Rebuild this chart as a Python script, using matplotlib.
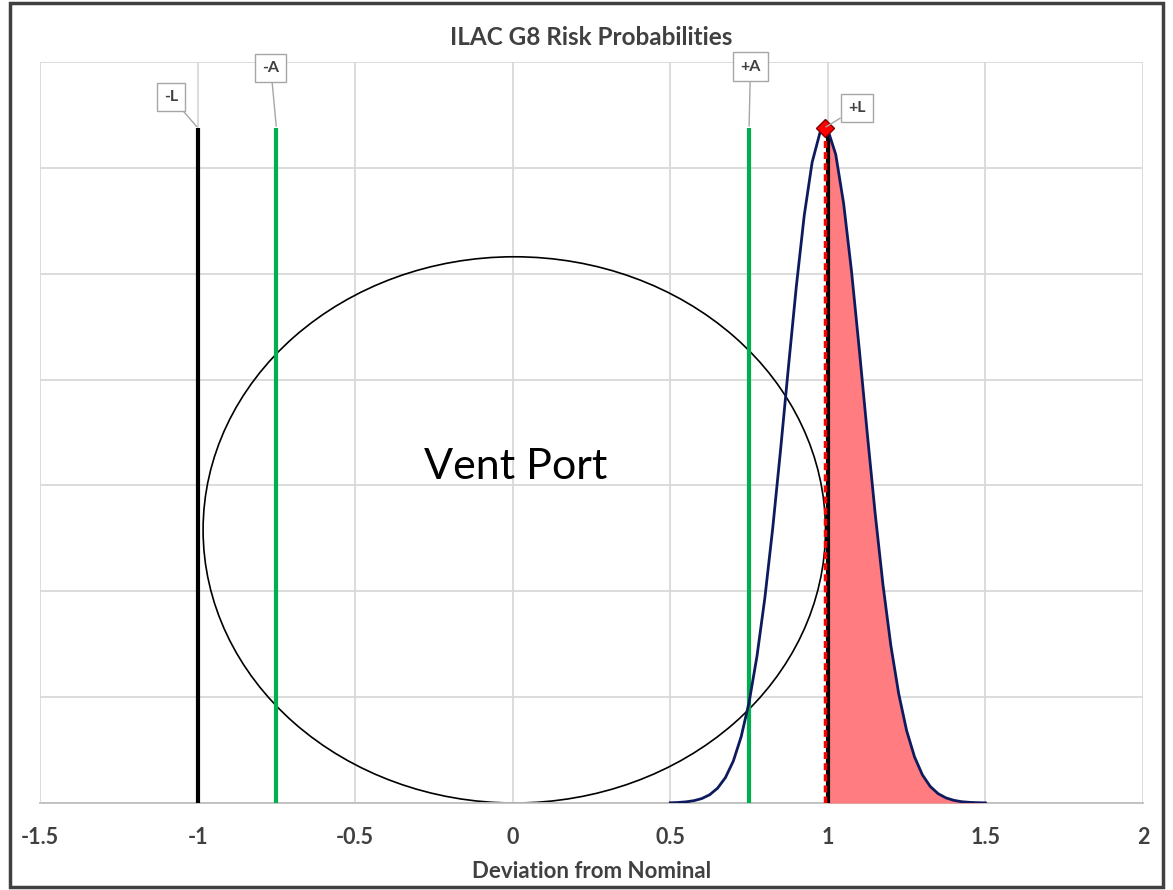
import matplotlib
matplotlib.use("Agg")
import numpy as np
import matplotlib.pyplot as plt
from matplotlib.patches import Ellipse, Rectangle

# limit / acceptance lines
limit_x = [-1.0, -0.75, 0.75, 1.0]
limit_labels = ['-L', '-A', '+A', '+L']
limit_colors = ['black', '#00B050', '#00B050', 'black']
limit_top = 6.38

# measured value (red dashed line + diamond)
meas_x = 0.99
meas_y = 6.38

# distribution curve
curve_x = [0.500, 0.525, 0.550, 0.575, 0.600, 0.625, 0.650, 0.675, 0.700, 0.725,
           0.750, 0.775, 0.800, 0.825, 0.850, 0.875, 0.900, 0.925, 0.950, 0.975,
           0.990, 1.000, 1.025, 1.050, 1.075, 1.100, 1.125, 1.150, 1.175, 1.200,
           1.225, 1.250, 1.275, 1.300, 1.325, 1.350, 1.375, 1.400, 1.425, 1.450,
           1.475, 1.500]
curve_y = [0.002, 0.005, 0.011, 0.022, 0.042, 0.078, 0.140, 0.240, 0.396, 0.627,
           0.951, 1.385, 1.935, 2.595, 3.338, 4.121, 4.881, 5.549, 6.051, 6.333,
           6.380, 6.359, 6.127, 5.664, 5.025, 4.277, 3.493, 2.738, 2.059, 1.485,
           1.029, 0.683, 0.436, 0.266, 0.156, 0.088, 0.048, 0.025, 0.012, 0.006,
           0.003, 0.001]

# vent port ellipse: centre, width, height
vent_center = (0.005, 2.58)
vent_size = (1.975, 5.16)

x_ticks = [-1.5, -1, -0.5, 0, 0.5, 1, 1.5, 2]
x_tick_labels = ['-1.5', '-1', '-0.5', '0', '0.5', '1', '1.5', '2']

plt.rcParams['font.family'] = ['Lato', 'DejaVu Sans']

fig = plt.figure(figsize=(11.73, 8.9), dpi=100)
ax = fig.add_axes([40/1173, 1-803/890, (1143-40)/1173, (803-62)/890])

ax.set_xlim(-1.5, 2)
ax.set_ylim(0, 7)
ax.set_xticks(x_ticks)
ax.set_xticklabels(x_tick_labels)
ax.set_yticks(range(0, 8))
ax.set_yticklabels([])
ax.tick_params(axis='both', length=0)
ax.tick_params(axis='x', pad=17, labelsize=15.5, labelcolor='#404040')
for lbl in ax.get_xticklabels():
    lbl.set_fontweight('bold')
ax.grid(True, color='#D9D9D9', lw=1.3)
ax.set_axisbelow(True)
for s in ['left', 'right', 'top']:
    ax.spines[s].set_visible(False)
ax.spines['bottom'].set_color('#BFBFBF')
ax.spines['bottom'].set_linewidth(1.3)

ax.set_title('ILAC G8 Risk Probabilities', fontsize=17.5, fontweight='bold',
             color='#404040', pad=12)
ax.set_xlabel('Deviation from Nominal', fontsize=16, fontweight='bold',
              color='#404040', labelpad=10)

# vent port
ax.add_patch(Ellipse(vent_center, vent_size[0], vent_size[1], fill=False,
                     ec='black', lw=1.2, zorder=2))
ax.text(0.01, 3.17, 'Vent Port', fontsize=31, ha='center', va='center', zorder=3)

# fill beyond +L
cx = np.array(curve_x)
cy = np.array(curve_y)
ax.fill_between(cx, 0, cy, where=cx >= limit_x[3], color='#FF7C80', lw=0, zorder=3)
ax.plot(cx, cy, color='#0D1B5E', lw=2, zorder=5)

# vertical lines
for x, c in zip(limit_x, limit_colors):
    ax.plot([x, x], [0, limit_top], color=c, lw=3, zorder=4, solid_capstyle='butt')

ax.plot([meas_x, meas_x], [0, meas_y], color='red', lw=2.5, ls=(0, (2, 1.2)), zorder=6)
ax.plot([meas_x], [meas_y], marker='D', ms=9, mfc='red', mec='#7F0000', mew=1,
        zorder=7, clip_on=False)

# callout labels
offsets = [(-19, 22), (-4, 43), (1, 44), (23, 14)]
for x, lab, off in zip(limit_x, limit_labels, offsets):
    ax.annotate(lab, xy=(x if lab != '+L' else meas_x, limit_top), xytext=off,
                textcoords='offset points', ha='center', va='center',
                fontsize=11.5, fontweight='bold', color='#404040',
                bbox=dict(boxstyle='square,pad=0.45', fc='white', ec='#A6A6A6', lw=1),
                arrowprops=dict(arrowstyle='-', color='#A6A6A6', lw=1,
                                shrinkA=0, shrinkB=1),
                zorder=8, annotation_clip=False)

# outer frame
fig.patches.append(Rectangle((10/1173, 3/890), 1153/1173, 884/890,
                             transform=fig.transFigure, fill=False,
                             ec='#404040', lw=2.5))

fig.savefig('out.png', dpi=100)
